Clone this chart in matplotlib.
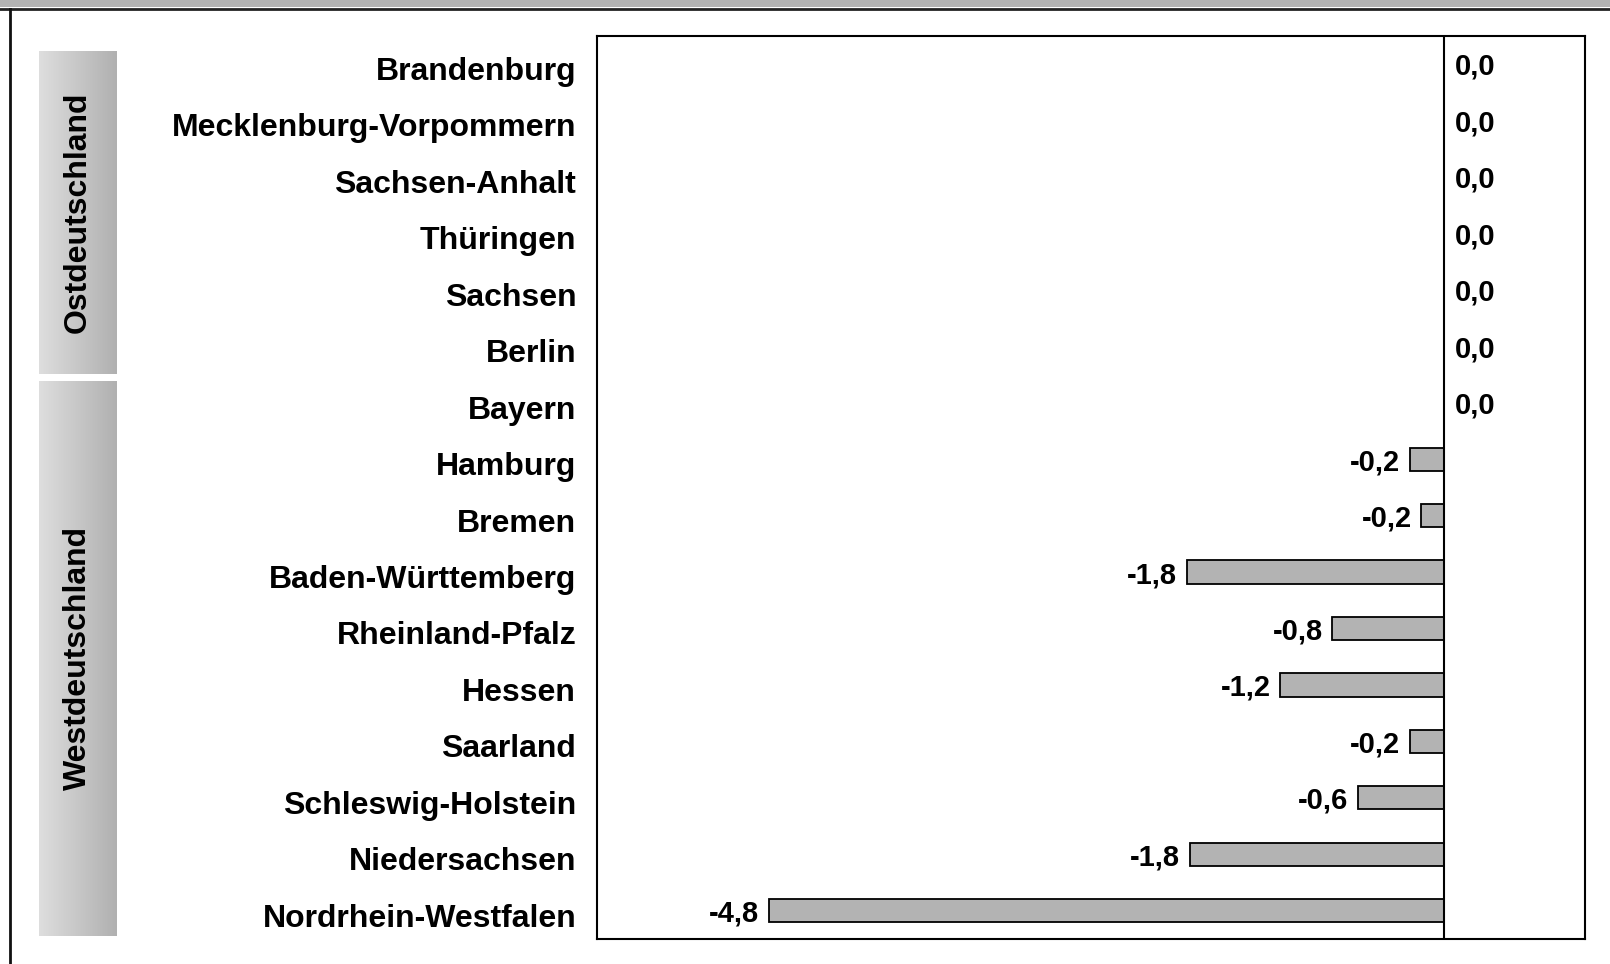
import matplotlib
matplotlib.use("Agg")
from matplotlib import pyplot as plt
from matplotlib.lines import Line2D
from matplotlib.patches import Rectangle
from matplotlib.colors import LinearSegmentedColormap
from matplotlib.transforms import ScaledTranslation
import numpy as np

plt.rcParams['font.family'] = ['Liberation Sans', 'DejaVu Sans']
plt.rcParams['font.weight'] = 'bold'

# Bundeslaender, von oben nach unten
laender = ["Brandenburg", "Mecklenburg-Vorpommern", "Sachsen-Anhalt", "Thüringen",
           "Sachsen", "Berlin", "Bayern", "Hamburg", "Bremen", "Baden-Württemberg",
           "Rheinland-Pfalz", "Hessen", "Saarland", "Schleswig-Holstein",
           "Niedersachsen", "Nordrhein-Westfalen"]
werte = [0.0, 0.0, 0.0, 0.0, 0.0, 0.0, 0.0, -0.24, -0.16, -1.82,
         -0.79, -1.16, -0.24, -0.61, -1.80, -4.78]

gruppen = ["Ostdeutschland", "Westdeutschland"]

W, H = 1610, 964
fig = plt.figure(figsize=(W / 100, H / 100), dpi=100)

# Rahmen: grauer Balken oben, Linie links
fig.patches.append(Rectangle((0, 1 - 7 / H), 1, 7 / H, transform=fig.transFigure,
                             facecolor="#b3b3b3", edgecolor="none"))
fig.lines.append(Line2D([0, 1], [1 - 8.5 / H, 1 - 8.5 / H], transform=fig.transFigure,
                        color="#222222", lw=2))
fig.lines.append(Line2D([9.5 / W, 9.5 / W], [0, 1 - 8.5 / H], transform=fig.transFigure,
                        color="#111111", lw=2))

ax = fig.add_axes([597 / W, 1 - 939 / H, 988 / W, 903.3 / H])
y = np.arange(len(laender))
ax.barh(y, werte, height=0.41, color="#b3b3b3", edgecolor="black", linewidth=1.3)
ax.axvline(0, color="black", lw=1.5)

for yi, v in zip(y, werte):
    txt = f"{v:.1f}".replace(".", ",")
    if v < 0:
        ax.annotate(txt, (v, yi), xytext=(-7, 0), textcoords="offset points",
                    ha="right", va="center_baseline", fontsize=21, fontweight="bold")
    else:
        ax.annotate(txt, (0, yi), xytext=(8, 0), textcoords="offset points",
                    ha="left", va="center_baseline", fontsize=21, fontweight="bold")

ax.set_xlim(-6, 1)
ax.set_ylim(len(laender) - 0.5, -0.5)
ax.set_xticks([])
ax.set_yticks(y)
ax.set_yticklabels(laender, fontsize=23, fontweight="bold")
ax.tick_params(axis="y", length=0, pad=15)
versatz = ScaledTranslation(0, -4.5 / 100, fig.dpi_scale_trans)
for lab in ax.get_yticklabels():
    lab.set_transform(lab.get_transform() + versatz)
for s in ax.spines.values():
    s.set_linewidth(1.5)

# Gruppenkaesten mit Verlauf
grau = LinearSegmentedColormap.from_list("grau", ["#dedede", "#b0b0b0"])
boxen = [(50.5, 373.7), (381, 936)]
verlauf = np.linspace(0, 1, 256).reshape(1, -1)
for name, (top, bot) in zip(gruppen, boxen):
    bx = fig.add_axes([39 / W, 1 - bot / H, 77 / W, (bot - top) / H])
    bx.imshow(verlauf, aspect="auto", cmap=grau, extent=[0, 1, 0, 1])
    bx.set_axis_off()
    bx.text(0.5, 0.5, name, rotation=90, ha="center", va="center",
            fontsize=23, fontweight="bold", transform=bx.transAxes)

fig.savefig("out.png", dpi=100)
